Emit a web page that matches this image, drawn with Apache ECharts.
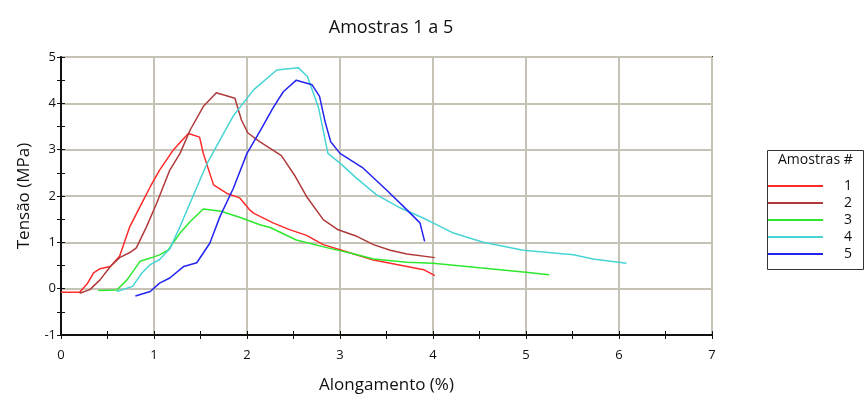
<!DOCTYPE html>
<html>
<head>
<meta charset="utf-8">
<script src="https://cdn.jsdelivr.net/npm/echarts@6/dist/echarts.min.js"></script>
<style>
  html, body { margin: 0; padding: 0; background: #fff; }
  #chart { width: 866px; height: 399px; }
</style>
</head>
<body>
<div id="chart"></div>
<script>
// Stress–strain curves, one [elongation %, stress MPa] list per sample
const sampleNames = ['1', '2', '3', '4', '5'];
const sampleColors = ['#ff2a2a', '#b03a3a', '#2ee82e', '#48d4d4', '#2424f0'];

const sample1 = [[0,-0.08],[0.2,-0.08],[0.28,0.1],[0.35,0.34],[0.42,0.43],[0.53,0.48],[0.63,0.7],[0.74,1.34],[0.85,1.77],[0.96,2.2],[1.06,2.56],[1.21,3.0],[1.3,3.2],[1.37,3.35],[1.49,3.27],[1.53,2.92],[1.64,2.24],[1.78,2.06],[1.92,1.96],[2.03,1.7],[2.07,1.63],[2.28,1.42],[2.45,1.28],[2.64,1.15],[2.82,0.95],[3.0,0.84],[3.36,0.62],[3.61,0.52],[3.9,0.41],[4.02,0.28]];
const sample2 = [[0.2,-0.1],[0.31,-0.02],[0.42,0.19],[0.53,0.48],[0.63,0.67],[0.74,0.78],[0.81,0.88],[0.92,1.34],[1.03,1.85],[1.17,2.56],[1.28,2.92],[1.39,3.43],[1.53,3.93],[1.67,4.23],[1.87,4.11],[1.94,3.64],[2.01,3.36],[2.14,3.17],[2.37,2.87],[2.52,2.42],[2.64,1.99],[2.82,1.49],[2.98,1.27],[3.18,1.13],[3.36,0.95],[3.54,0.83],[3.72,0.75],[4.02,0.67]];
const sample3 = [[0.4,-0.04],[0.6,-0.03],[0.71,0.19],[0.85,0.59],[0.96,0.66],[1.06,0.73],[1.15,0.83],[1.28,1.2],[1.39,1.45],[1.53,1.72],[1.72,1.67],[1.92,1.54],[2.14,1.38],[2.25,1.32],[2.53,1.05],[2.89,0.87],[3.11,0.77],[3.36,0.64],[3.72,0.57],[4.0,0.55],[4.5,0.45],[4.97,0.36],[5.25,0.3]];
const sample4 = [[0.6,-0.06],[0.77,0.05],[0.87,0.34],[0.96,0.52],[1.06,0.63],[1.17,0.86],[1.28,1.34],[1.42,2.0],[1.57,2.7],[1.71,3.21],[1.85,3.72],[2.07,4.29],[2.32,4.72],[2.55,4.77],[2.65,4.58],[2.77,3.9],[2.87,2.92],[3.0,2.71],[3.18,2.38],[3.39,2.03],[3.65,1.74],[3.9,1.52],[4.0,1.42],[4.22,1.2],[4.54,1.0],[4.97,0.83],[5.51,0.73],[5.72,0.64],[6.08,0.55]];
const sample5 = [[0.8,-0.16],[0.96,-0.06],[1.06,0.12],[1.17,0.23],[1.32,0.48],[1.46,0.56],[1.6,0.98],[1.71,1.56],[1.85,2.15],[2.0,2.92],[2.14,3.4],[2.28,3.9],[2.39,4.25],[2.53,4.5],[2.7,4.4],[2.78,4.15],[2.84,3.6],[2.9,3.17],[3.0,2.92],[3.25,2.6],[3.5,2.13],[3.72,1.7],[3.86,1.42],[3.91,1.02]];

const samples = [sample1, sample2, sample3, sample4, sample5];

const xMin = 0, xMax = 7, xStep = 1;
const yMin = -1, yMax = 5, yStep = 1;

const FONT = 'Open Sans';
const INK = '#111';
const gridColor = '#c6c2b6';
const chart = echarts.init(document.getElementById('chart'), null, { renderer: 'canvas' });

// Main axes carry labels, grid lines and the inward half of each tick;
// a twin axis on the same scale adds the outward half so ticks cross the line.
function mainAxis(extra) {
  return Object.assign({
    type: 'value',
    nameLocation: 'middle',
    nameTextStyle: { fontFamily: FONT, fontSize: 17, color: INK },
    axisLine: { show: true, onZero: false, lineStyle: { color: INK, width: 2 } },
    axisTick: { show: true, inside: true, length: 4, lineStyle: { color: INK } },
    minorTick: { show: true, splitNumber: 2, length: 4, lineStyle: { color: INK } },
    axisLabel: { fontFamily: FONT, fontSize: 13, color: INK },
    splitLine: { show: true, lineStyle: { color: gridColor, width: 2 } }
  }, extra);
}
function twinAxis(extra) {
  return Object.assign({
    type: 'value',
    axisLine: { show: false, onZero: false },
    axisTick: { show: true, inside: false, length: 4, lineStyle: { color: INK } },
    minorTick: { show: true, splitNumber: 2, length: 4, lineStyle: { color: INK } },
    axisLabel: { show: false },
    splitLine: { show: false }
  }, extra);
}

chart.setOption({
  animation: false,
  textStyle: { fontFamily: FONT },
  title: {
    text: 'Amostras 1 a 5',
    left: 386, top: 14, textAlign: 'center',
    textStyle: { fontFamily: FONT, fontSize: 18, fontWeight: 'normal', color: INK }
  },
  grid: {
    left: 61, top: 57, right: 154, bottom: 64,
    show: true, borderColor: '#222', borderWidth: 2, backgroundColor: '#fff'
  },
  legend: {
    orient: 'vertical',
    left: 763, top: 174,
    itemWidth: 55, itemHeight: 2, itemGap: 3,
    icon: 'rect',
    data: sampleNames,
    textStyle: { fontFamily: FONT, fontSize: 14, color: INK, padding: [0, 0, 0, 16] }
  },
  graphic: [
    {
      type: 'rect', left: 765, top: 148,
      shape: { width: 96, height: 119 },
      style: { fill: 'none', stroke: '#333', lineWidth: 1 }
    },
    {
      type: 'text', left: 778, top: 153,
      style: { text: 'Amostras #', font: '14px "Open Sans"', fill: INK }
    }
  ],
  xAxis: [
    mainAxis({
      min: xMin, max: xMax, interval: xStep,
      name: 'Alongamento (%)', nameGap: 42,
      axisLabel: { fontFamily: FONT, fontSize: 13, color: INK, margin: 14 }
    }),
    twinAxis({ min: xMin, max: xMax, interval: xStep, position: 'bottom' })
  ],
  yAxis: [
    mainAxis({
      min: yMin, max: yMax, interval: yStep,
      name: 'Tensão (MPa)', nameGap: 28,
      axisLabel: { fontFamily: FONT, fontSize: 13, color: INK, margin: 5 }
    }),
    twinAxis({ min: yMin, max: yMax, interval: yStep, position: 'left' })
  ],
  series: samples.map((data, i) => ({
    name: sampleNames[i],
    type: 'line',
    data: data,
    showSymbol: false,
    symbol: 'none',
    color: sampleColors[i],
    lineStyle: { width: 1.5, color: sampleColors[i] },
    emphasis: { disabled: true }
  }))
});
</script>
</body>
</html>
